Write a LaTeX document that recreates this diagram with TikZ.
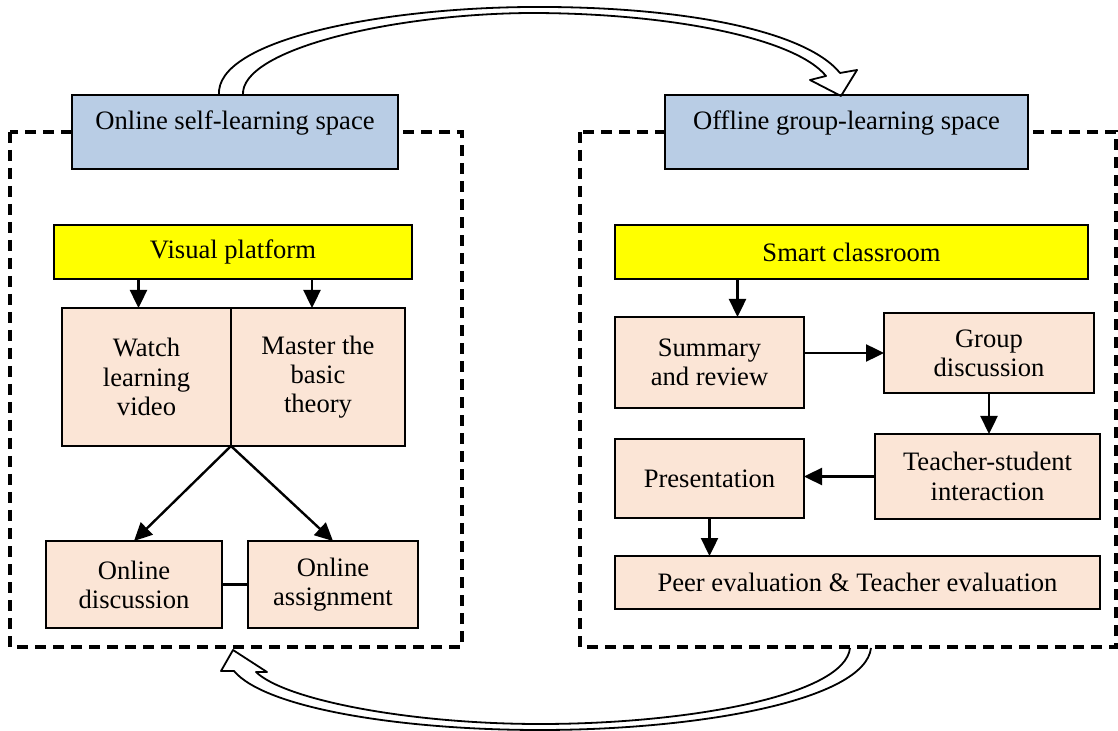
\documentclass[tikz,border=0pt]{standalone}
\usepackage{fontspec}
\setmainfont{Liberation Serif}
\usetikzlibrary{arrows.meta}
\definecolor{spaceblue}{RGB}{185,205,229}
\definecolor{steppink}{RGB}{251,229,214}
\definecolor{platyellow}{RGB}{255,255,0}

\begin{document}
\begin{tikzpicture}[x=0.5pt,y=-0.5pt,
  every node/.style={font=\fontsize{13.3}{14.6}\selectfont, inner sep=0pt, outer sep=0pt},
  spacebox/.style={draw, line width=1pt, fill=spaceblue, minimum height=37pt, text height=8pt, text depth=10pt},
  platbox/.style={draw, line width=1pt, fill=platyellow, minimum height=27pt},
  stepbox/.style={draw, line width=1pt, fill=steppink, align=center},
  link/.style={-{Triangle[length=9pt,width=8.5pt]}, line width=1.2pt},
  frame/.style={line width=2pt, dash pattern=on 5.5pt off 3.5pt},
  hollow/.style={line width=0.9pt, line join=round}]
\useasboundingbox (0,0) rectangle (1118,731);

% the two learning spaces
\draw[frame] (10,132) rectangle (462,647);
\draw[frame] (580,132) rectangle (1116,647);

\node[spacebox, minimum width=163pt] (online) at (235,132) {Online self-learning space};
\node[spacebox, minimum width=181.5pt] (offline) at (846.5,132) {Offline group-learning space};

% online side
\node[platbox, minimum width=179pt] (visual) at (233,252) {Visual platform};
\node[stepbox, minimum width=84.5pt, minimum height=69pt] (watch) at (146.5,377) {Watch\\learning\\video};
\node[stepbox, minimum width=87pt, minimum height=69pt] (master) at (318,377) {Master the\\basic\\theory};
\node[stepbox, minimum width=88pt, minimum height=43.5pt] (odisc) at (134,584.5) {Online\\discussion};
\node[stepbox, minimum width=85pt, minimum height=43.5pt] (oassign) at (333,584.5) {Online\\assignment};

\draw[link] ([xshift=-4pt]visual.south -| watch.north) -- ([xshift=-4pt]watch.north);
\draw[link] ([xshift=-3pt]visual.south -| master.north) -- ([xshift=-3pt]master.north);
\draw[link] (watch.south east) -- (odisc.north);
\draw[link] (watch.south east) -- (oassign.north);
\draw[line width=1.2pt] (odisc.east) -- (oassign.west);

% offline side
\node[platbox, minimum width=236.5pt] (smart) at (851.5,252) {Smart classroom};
\node[stepbox, minimum width=94.5pt, minimum height=45.5pt] (summary) at (709.5,362.5) {Summary\\and review};
\node[stepbox, minimum width=105pt, minimum height=40pt] (group) at (989,353) {Group\\discussion};
\node[stepbox, minimum width=112.5pt, minimum height=42.5pt] (teacher) at (987.5,476.5) {Teacher-student\\interaction};
\node[stepbox, minimum width=94.5pt, minimum height=39.5pt] (present) at (709.5,478.5) {Presentation};
\node[stepbox, minimum width=242.5pt, minimum height=26.5pt] (peer) at (857.5,582.5) {Peer evaluation \& Teacher evaluation};

\draw[link] ([xshift=14pt]summary.north |- smart.south) -- ([xshift=14pt]summary.north);
\draw[link] (summary.east |- group.west) -- (group.west);
\draw[link] (group.south) -- (group.south |- teacher.north);
\draw[link] (teacher.west) -- (teacher.west -| present.east);
\draw[link] (present.south) -- (present.south |- peer.north);

% hollow curved arrows between the spaces
\draw[hollow] (219,95) .. controls (215,40) and (380,8) .. (530,7)
  .. controls (680,6) and (805,30) .. (840,73)
  -- (857,70) -- (841,96) -- (810,80) -- (826,76)
  .. controls (795,38) and (670,13) .. (530,13)
  .. controls (390,14) and (240,50) .. (243,95);
\draw[hollow] (871,648) .. controls (865,700) and (700,730) .. (540,730)
  .. controls (400,730) and (265,708) .. (234,671)
  -- (221,671) -- (233,650) -- (267,672) -- (256,672)
  .. controls (285,700) and (410,724) .. (540,724)
  .. controls (690,724) and (845,695) .. (850,648);
\end{tikzpicture}
\end{document}
